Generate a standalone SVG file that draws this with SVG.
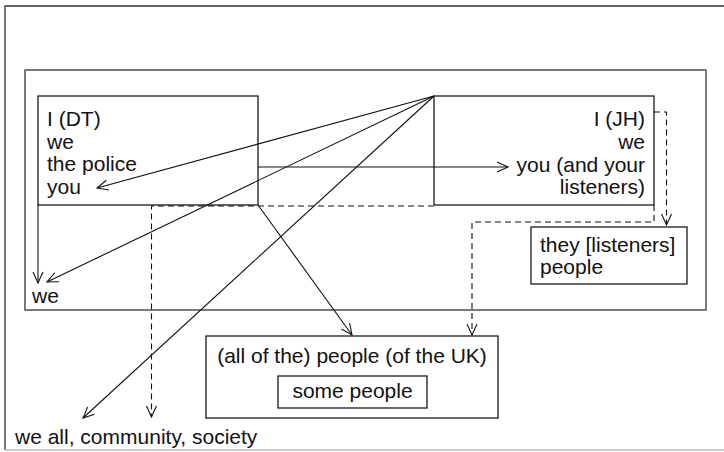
<svg xmlns="http://www.w3.org/2000/svg" width="724" height="452" viewBox="0 0 724 452">
  <style>
    .box { fill: none; stroke: #1a1a1a; stroke-width: 1.3; }
    .frame { fill: none; stroke: #333; stroke-width: 1.3; }
    .lbl { font-family: "Liberation Sans", Arial, Helvetica, sans-serif; font-size: 21px; fill: #111; }
    .end { text-anchor: end; }
    .mid { text-anchor: middle; }
    .link { fill: none; stroke: #111; stroke-width: 1.1; }
    .dash { fill: none; stroke: #111; stroke-width: 1.1; stroke-dasharray: 6 4; }
  </style>
  <defs>
    <marker id="open" markerUnits="userSpaceOnUse" markerWidth="14" markerHeight="14" viewBox="-12 -7 14 14" refX="0" refY="0" orient="auto">
      <path d="M-11,-5 L0,0 L-11,5" fill="none" stroke="#111" stroke-width="1.1"/>
    </marker>
  </defs>

  <rect width="724" height="452" fill="#fff"/>

  <!-- outer frame (right side runs off the page) -->
  <g id="society">
    <path d="M5,450 L5,6 L730,6" class="frame"/>
    <path d="M5,450 L730,450" fill="none" stroke="#bbb" stroke-width="1.3"/>
    <text class="lbl" x="15" y="444">we all, community, society</text>
  </g>

  <!-- inner frame -->
  <g id="we-frame">
    <rect class="frame" x="25" y="70" width="681" height="240"/>
    <text class="lbl" x="32" y="303">we</text>
  </g>

  <g id="dt">
    <rect class="box" x="38" y="96" width="220" height="109"/>
    <text class="lbl" x="47" y="126">I (DT)</text>
    <text class="lbl" x="47" y="148.5">we</text>
    <text class="lbl" x="47" y="171">the police</text>
    <text class="lbl" x="47" y="193.5">you</text>
  </g>

  <g id="jh">
    <rect class="box" x="434" y="96" width="220" height="109"/>
    <text class="lbl end" x="645" y="126">I (JH)</text>
    <text class="lbl end" x="645" y="148.5">we</text>
    <text class="lbl end" x="645" y="172">you (and your</text>
    <text class="lbl end" x="645" y="194">listeners)</text>
  </g>

  <g id="listeners">
    <rect class="box" x="531" y="227" width="156" height="57"/>
    <text class="lbl" x="540" y="252">they [listeners]</text>
    <text class="lbl" x="540" y="274">people</text>
  </g>

  <g id="uk-people">
    <rect class="box" x="206" y="336" width="292" height="82"/>
    <text class="lbl mid" x="352" y="363">(all of the) people (of the UK)</text>
  </g>

  <g id="some-people">
    <rect class="box" x="278" y="376" width="149" height="32"/>
    <text class="lbl mid" x="352.5" y="398">some people</text>
  </g>

  <g id="connectors">
    <!-- from the JH corner -->
    <path class="link" d="M434,96 L97,188" marker-end="url(#open)"/>
    <path class="link" d="M434,96 L47,282" marker-end="url(#open)"/>
    <path class="link" d="M434,96 L83,418" marker-end="url(#open)"/>
    <!-- from the DT box -->
    <path class="link" d="M258,167 L508,167" marker-end="url(#open)"/>
    <path class="link" d="M38,205 L38,283" marker-end="url(#open)"/>
    <path class="link" d="M258,205 L352,335" marker-end="url(#open)"/>
    <!-- dashed links -->
    <path class="dash" d="M434,206 L151.5,206 L151.5,417" marker-end="url(#open)"/>
    <path class="dash" d="M654,112 L666.5,112 L666.5,225" marker-end="url(#open)"/>
    <path class="dash" d="M654,205 L654,222 L472,222 L472,335" marker-end="url(#open)"/>
  </g>
</svg>
